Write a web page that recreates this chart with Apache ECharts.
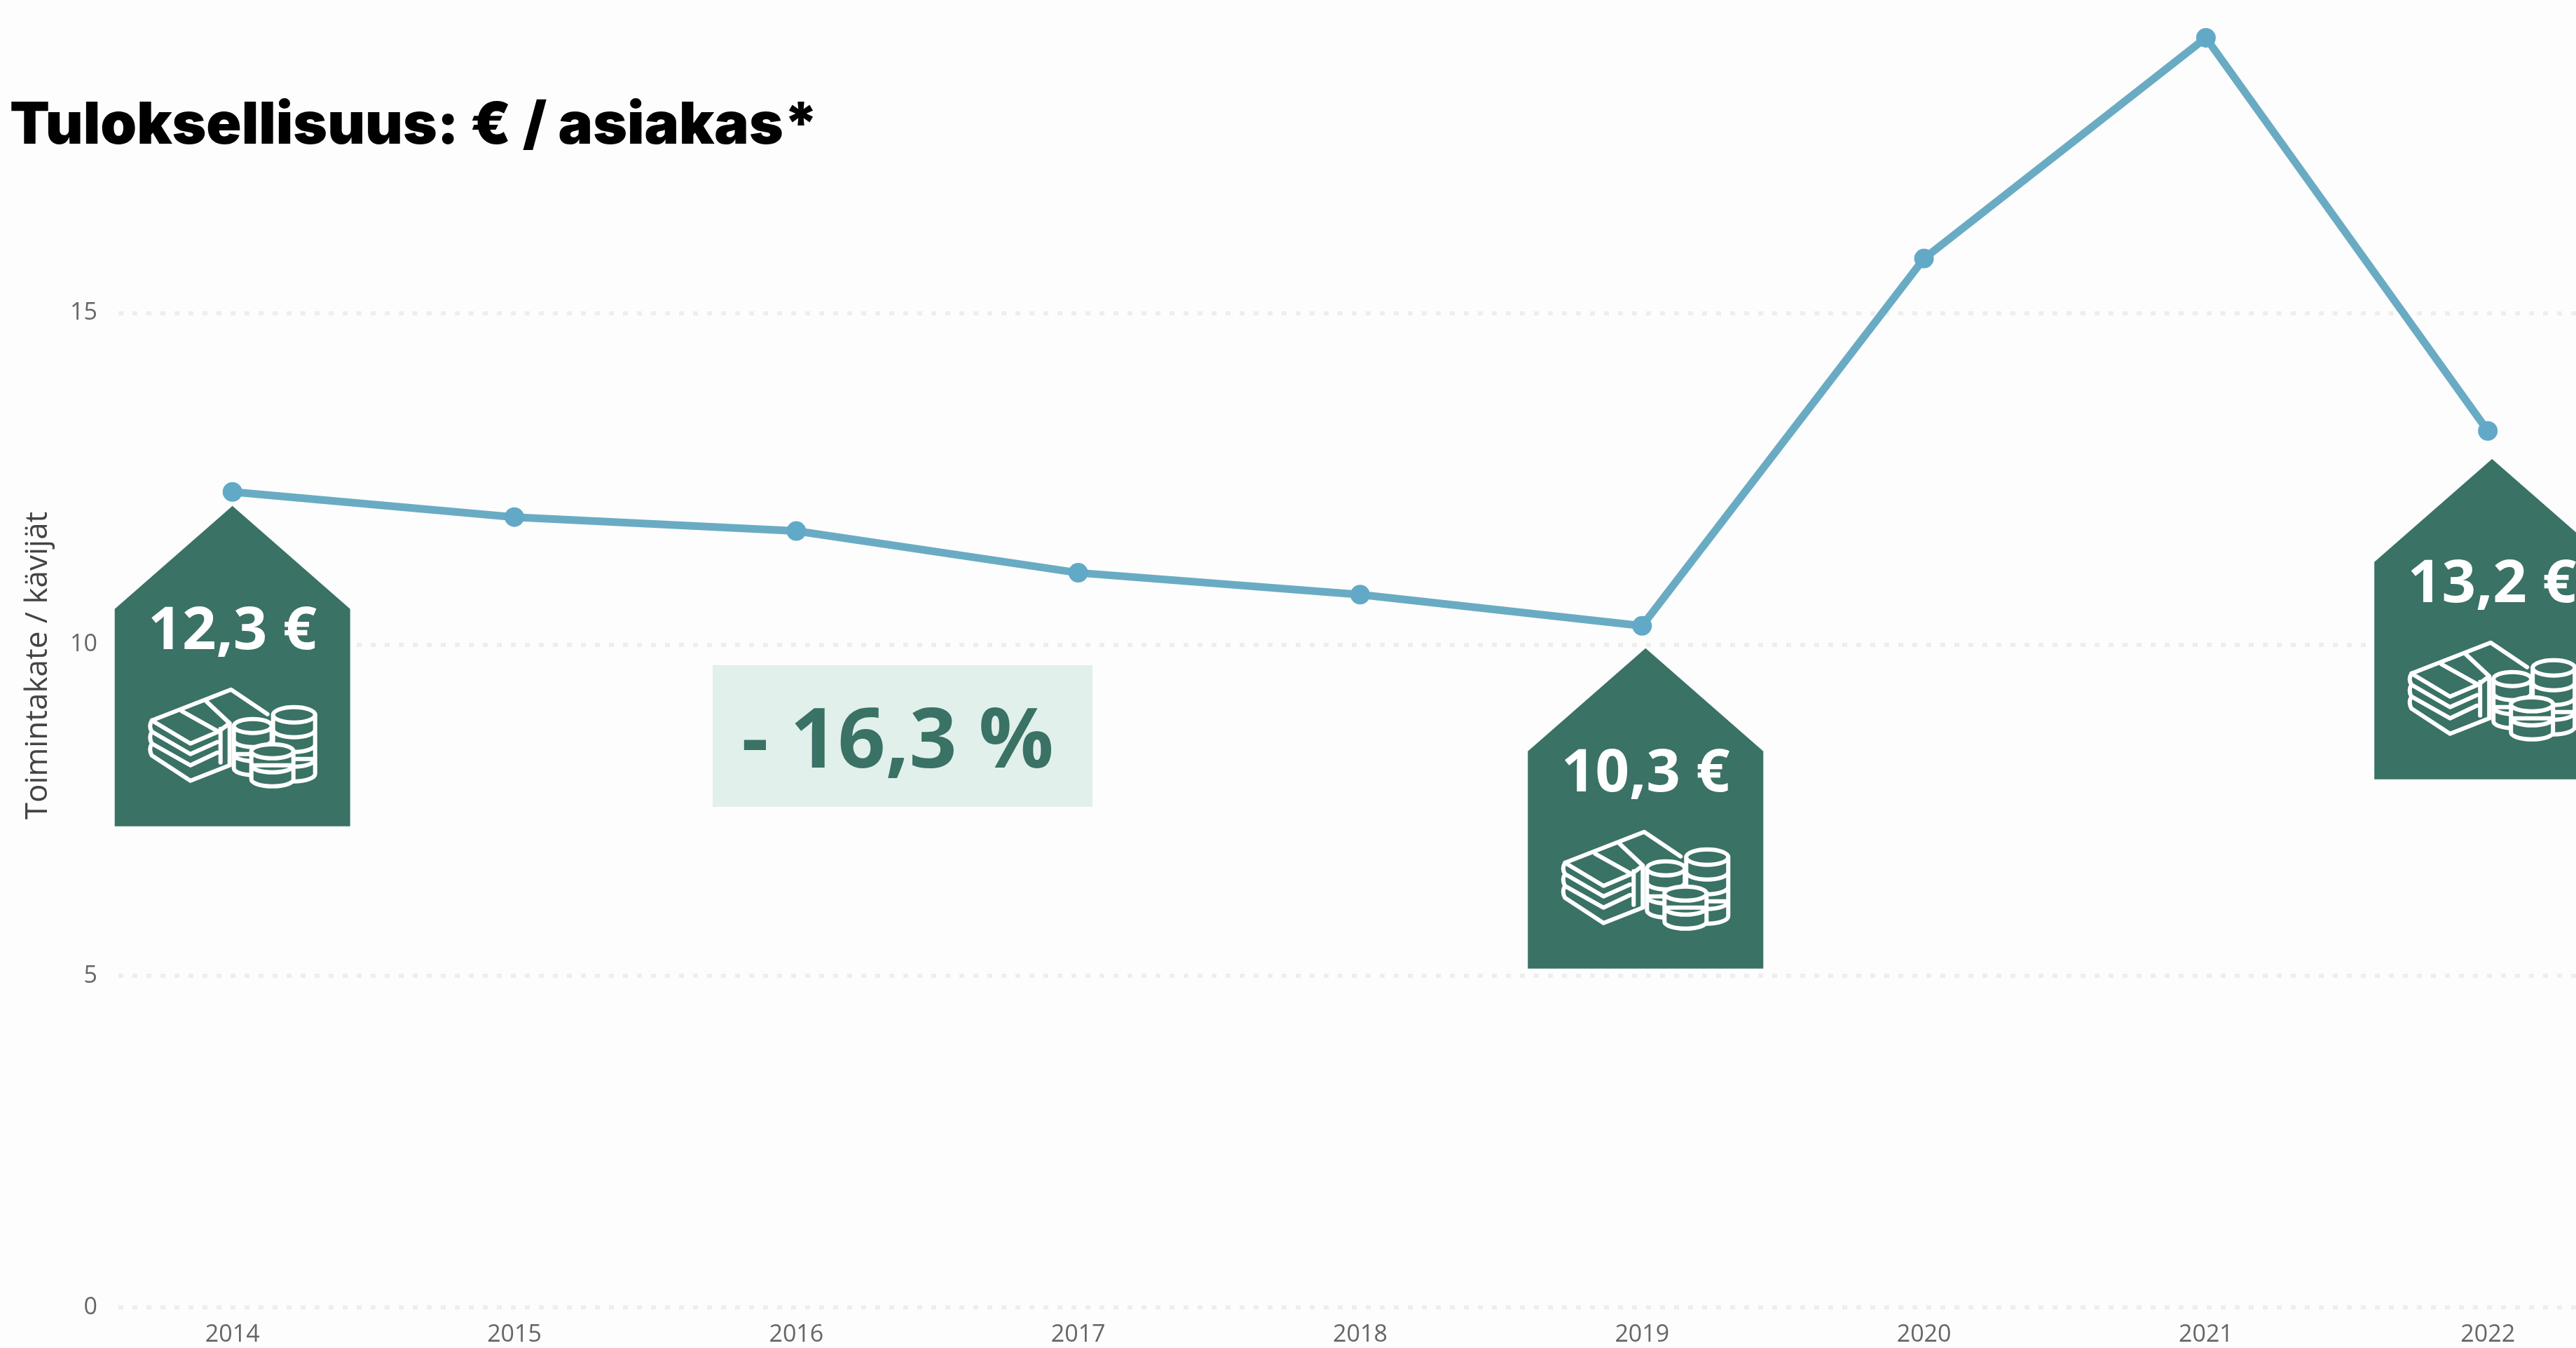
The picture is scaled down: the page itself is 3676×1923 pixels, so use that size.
<!DOCTYPE html>
<html><head><meta charset="utf-8">
<style>html,body{margin:0;padding:0;background:#fdfdfd}#c{width:3676px;height:1923px}</style>
<script src="https://cdn.jsdelivr.net/npm/echarts@6/dist/echarts.min.js"></script>
</head><body><div id="c"></div>
<script>
const years = [2014,2015,2016,2017,2018,2019,2020,2021,2022];
const values = [12.3,11.92,11.71,11.08,10.75,10.28,15.82,19.15,13.22];
const yTicks = [0,5,10,15];
const titleText = 'Tuloksellisuus: € / asiakas*';
const yAxisTitle = 'Toimintakate / kävijät';
const badgeYears = [2014,2019,2022];
const badgeLabels = ['12,3 €','10,3 €','13,2 €'];
const changeLabel = '- 16,3 %';

const GREEN = '#3a7265';
// pixel offset of each badge's apex from its data point
const badgeOffset = {2014:[0,20], 2019:[5,32], 2022:[6,40]};

function coinStack(cx, cy, rx, ry, levels, step){
  let d = `M${cx-rx} ${cy}A${rx} ${ry} 0 1 1 ${cx+rx} ${cy}A${rx} ${ry} 0 1 1 ${cx-rx} ${cy}Z`;
  let o = `M${cx-rx} ${cy}L${cx-rx} ${cy+levels*step}A${rx} ${ry} 0 0 0 ${cx+rx} ${cy+levels*step}L${cx+rx} ${cy}`;
  for(let i=1;i<levels;i++){ o += `M${cx-rx} ${cy+i*step}A${rx} ${ry} 0 0 0 ${cx+rx} ${cy+i*step}`; }
  return {top:d, body:o+'Z'};
}
const billsPath = 'M2 46L115 2L167 37M2 46L57 79L97 62M45 33L97 62M80 19L113 50M97 62L113 50'
 +'M2 46Q-3 54 2 62L57 94L95 77M2 62Q-3 70 2 79L57 110L95 92M2 79Q-3 87 2 96L57 132L113 110'
 +'M100 58L100 106M113 50L113 110';
const stacks = [coinStack(146,54,27,10,3,20), coinStack(205,38,30,11,4,21), coinStack(174,90,30,10,2,20)];

function iconChildren(){
  const st = {stroke:'#fff', lineWidth:6, lineJoin:'round', lineCap:'round'};
  const kids = [{type:'path', shape:{pathData:billsPath}, style:Object.assign({fill:null},st)}];
  stacks.forEach(s=>{
    kids.push({type:'path', shape:{pathData:s.body}, style:Object.assign({fill:GREEN},st)});
    kids.push({type:'path', shape:{pathData:s.top}, style:Object.assign({fill:GREEN},st)});
  });
  return kids;
}

const chart = echarts.init(document.getElementById('c'), null, {renderer:'canvas'});
chart.setOption({
  animation:false,
  backgroundColor:'#fdfdfd',
  title:{text:titleText,left:9,top:134,textStyle:{fontFamily:'Inter',fontWeight:900,fontSize:83,color:'#000'}},
  grid:{left:169,right:0,top:0,bottom:58,containLabel:false},
  xAxis:{type:'value',min:2013.5956,max:2022.3127,
    splitLine:{show:false},axisLine:{show:false},axisTick:{show:false},
    axisLabel:{customValues:years,formatter:v=>String(v),margin:22,fontFamily:'Open Sans',fontSize:34,color:'#666',showMinLabel:true,showMaxLabel:true}},
  yAxis:{type:'value',min:0,max:19.72,interval:5,
    name:yAxisTitle,nameLocation:'middle',nameGap:93,nameRotate:90,
    nameTextStyle:{fontFamily:'Open Sans',fontSize:44,color:'#444',padding:[0,34,0,0]},
    axisLine:{show:false},axisTick:{show:false},
    axisLabel:{margin:30,fontFamily:'Open Sans',fontSize:34,color:'#666',formatter:v=>yTicks.includes(v)?String(v):''},
    splitLine:{show:true,showMaxLine:false,lineStyle:{color:'#eeeeee',width:6,type:[7,13]}}},
  graphic:[
    {type:'rect',left:1017,top:949,shape:{width:542,height:202},style:{fill:'#e1f0ea'},z:5},
    {type:'text',x:1281,y:1061,z:6,style:{text:changeLabel,fontFamily:'Open Sans',fontWeight:700,fontSize:119,fill:GREEN,align:'center',verticalAlign:'middle'}}
  ],
  series:[
    {type:'line',data:years.map((y,i)=>[y,values[i]]),
      lineStyle:{color:'#6aabc4',width:11},itemStyle:{color:'#62a9c8'},
      symbol:'circle',symbolSize:28,showSymbol:true,z:3,clip:false},
    {type:'custom',coordinateSystem:'cartesian2d',z:4,clip:false,
      data:badgeYears.map((y,i)=>[y,values[years.indexOf(y)],i]),
      encode:{x:0,y:1},
      renderItem(params,api){
        const year=api.value(0), p=api.coord([year,api.value(1)]);
        const off=badgeOffset[year], cx=p[0]+off[0], ay=p[1]+off[1];
        return {type:'group',x:cx,y:ay,children:[
          {type:'polygon',shape:{points:[[0,0],[168,147],[168,457],[-168,457],[-168,147]]},style:{fill:GREEN}},
          {type:'text',x:0,y:180,style:{text:badgeLabels[api.value(2)],fontFamily:'Open Sans',fontWeight:700,fontSize:85,fill:'#fff',align:'center',verticalAlign:'middle'}},
          {type:'group',x:-117,y:260,children:iconChildren()}
        ]};
      }}
  ]
});
</script></body></html>
